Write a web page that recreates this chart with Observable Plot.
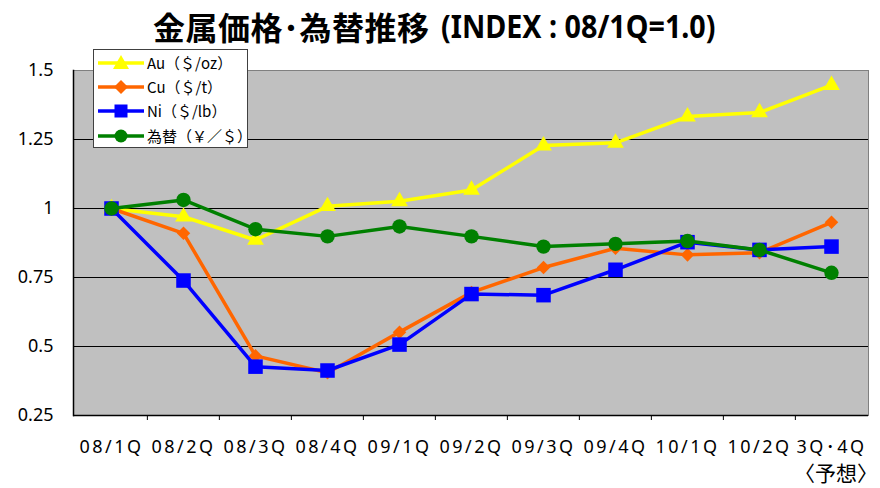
<!DOCTYPE html>
<html><head><meta charset="utf-8">
<script src="https://cdn.jsdelivr.net/npm/d3@7"></script>
<script src="https://cdn.jsdelivr.net/npm/@observablehq/plot@0.6"></script>
<style>
body{margin:0;background:#fff;width:880px;height:488px;position:relative;overflow:hidden;font-family:"Noto Sans","Noto Sans CJK JP",sans-serif}
.tpart{position:absolute;top:6px;font-family:"Noto Sans CJK JP",sans-serif;font-weight:bold;line-height:40px;color:#000;white-space:nowrap}
#t1{left:153px;font-size:32px;letter-spacing:0.5px}
#t2{left:441px;font-size:33px;transform:scaleX(0.87);transform-origin:left center;font-family:"Noto Sans","Noto Sans CJK JP",sans-serif}
#chart{position:absolute;left:0;top:45px}
#legend{position:absolute;left:93px;top:49px;width:153px;height:97px;background:#fff;border:1px solid #404040;box-sizing:content-box}
#legend .row{position:absolute;left:0;height:24px;width:153px}
#legend svg{position:absolute;left:4px;top:0}
#legend span{position:absolute;left:53px;top:1px;font-family:"Noto Sans CJK JP",sans-serif;font-size:15px;line-height:20px;color:#000;white-space:nowrap}
#forecast{position:absolute;right:2px;top:459px;font-family:"Noto Sans CJK JP",sans-serif;font-size:21px;line-height:26px;color:#000}
</style>
</head><body>
<div id="t1" class="tpart">金属価格･為替推移</div>
<div id="t2" class="tpart">(INDEX : 08/1Q=1.0)</div>
<div id="chart"></div>
<div id="legend"></div>
<div id="forecast">〈予想〉</div>
<script>
const quarters = ["08/1Q","08/2Q","08/3Q","08/4Q","09/1Q","09/2Q","09/3Q","09/4Q","10/1Q","10/2Q","3Q･4Q"];
const au = [1.0, 0.97, 0.886, 1.008, 1.026, 1.067, 1.228, 1.238, 1.333, 1.348, 1.447];
const cu = [1.0, 0.91, 0.466, 0.405, 0.552, 0.696, 0.786, 0.856, 0.832, 0.84, 0.95];
const ni = [1.0, 0.739, 0.427, 0.413, 0.507, 0.69, 0.686, 0.778, 0.878, 0.85, 0.862];
const fx = [1.0, 1.031, 0.925, 0.899, 0.935, 0.899, 0.862, 0.872, 0.882, 0.85, 0.767];
const seriesNames = ["Au（＄/oz）", "Cu（＄/t）", "Ni（＄/lb）", "為替（￥／＄）"];
const seriesColors = ["#FFFF00", "#FF6600", "#0000FF", "#008000"];
const seriesSymbols = ["triangle", "square", "square", "circle"];
const yTicks = [0.25, 0.5, 0.75, 1, 1.25, 1.5];

const seriesValues = [au, cu, ni, fx];
const symbolR = [6.2, 5.4, 8.2, 7.2];
const symbolRotate = [0, 45, 0, 0];

const W = 880, H = 443, ML = 73, MR = 12;
const step = (W - ML - MR) / quarters.length;

const marks = [
  Plot.frame({fill: "#C0C0C0"}),
  Plot.gridY(yTicks.slice(1, -1), {stroke: "#000", strokeOpacity: 1, strokeWidth: 1}),
  Plot.frame({stroke: "#808080"}),
  Plot.ruleY([yTicks[0]], {stroke: "#000", strokeWidth: 1.5}),
  Plot.frame({anchor: "left", stroke: "#000", strokeWidth: 1.5}),
  Plot.axisX(quarters.slice(1), {tickSize: 5, tickFormat: () => "", dx: -step / 2, stroke: "#000"}),
  Plot.axisY(yTicks, {tickSize: 0, tickPadding: 20, fontSize: 18, tickFormat: d => String(d), fill: "#000"}),
  Plot.axisX({tickSize: 0, tickPadding: 25, fontSize: 18, fill: "#000"})
];
seriesValues.forEach((vals, i) => {
  const rows = quarters.map((q, j) => ({q, v: vals[j]}));
  marks.push(Plot.line(rows, {x: "q", y: "v", stroke: seriesColors[i], strokeWidth: 3.5}));
  marks.push(Plot.dot(rows, {x: "q", y: "v", symbol: seriesSymbols[i], r: symbolR[i], rotate: symbolRotate[i], fill: seriesColors[i], stroke: "none"}));
});

const chart = Plot.plot({
  width: W, height: H,
  marginTop: 25, marginBottom: 73, marginLeft: ML, marginRight: MR,
  style: {background: "transparent", fontFamily: "'Noto Sans','Noto Sans CJK JP',sans-serif", color: "#000"},
  x: {type: "point", domain: quarters, padding: 0.5, label: null, axis: null},
  y: {domain: [0.25, 1.5], label: null, axis: null},
  marks
});
d3.select(chart).selectAll('g[aria-label="x-axis tick label"] text').style("letter-spacing", "2.5px");
document.getElementById("chart").appendChild(chart);

// legend
const leg = document.getElementById("legend");
const rowTops = [2, 26, 50, 75];
const shapes = [
  c => `<polygon points="23,3 31,17 15,17" fill="${c}"/>`,
  c => `<polygon points="23,4 30,11 23,18 16,11" fill="${c}"/>`,
  c => `<rect x="16.5" y="4.5" width="13" height="13" fill="${c}"/>`,
  c => `<circle cx="23" cy="11" r="6.5" fill="${c}"/>`
];
seriesNames.forEach((name, i) => {
  const row = document.createElement("div");
  row.className = "row";
  row.style.top = rowTops[i] + "px";
  row.innerHTML = `<svg width="48" height="22"><line x1="0" x2="46" y1="11" y2="11" stroke="${seriesColors[i]}" stroke-width="3.5"/>${shapes[i](seriesColors[i])}</svg><span>${name}</span>`;
  leg.appendChild(row);
});
</script>
</body></html>
